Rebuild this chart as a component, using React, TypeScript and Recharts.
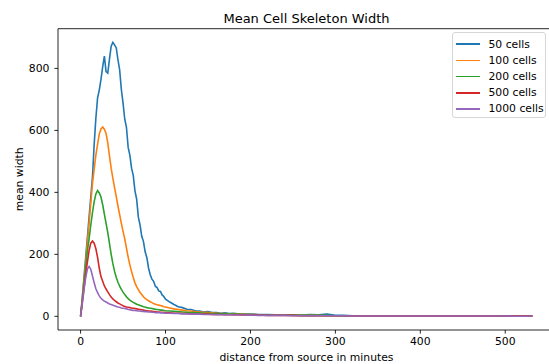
import { LineChart, Line, XAxis, YAxis, Legend, ReferenceLine, Label } from "recharts";

const minutes = [
  0, 2, 4, 6, 8, 10, 12, 14, 16, 18, 20, 22, 24, 26, 28, 30, 32, 34, 36, 38, 40, 42, 44, 46, 48, 50,
  52, 54, 56, 58, 60, 62, 64, 66, 68, 70, 72, 74, 76, 78, 80, 82, 84, 86, 88, 90, 92, 94, 96, 98, 100,
  105, 110, 115, 120, 125, 130, 135, 140, 145, 150, 155, 160, 165, 170, 175, 180, 185, 190, 195, 200,
  210, 220, 230, 240, 250, 260, 270, 280, 290, 300, 310, 320, 330, 340, 350, 360, 370, 380, 390, 400,
  410, 420, 430, 440, 450, 460, 470, 480, 490, 500, 510, 520, 530, 532,
];

const cells50 = [
  0, 60, 125, 190, 255, 320, 385, 450, 555, 640, 705, 730, 765, 805, 840, 790, 785, 830, 872, 884,
  876, 866, 828, 795, 732, 688, 636, 610, 545, 520, 478, 455, 405, 378, 320, 295, 258, 242, 208, 190,
  156, 134, 120, 113, 97, 93, 82, 80, 69, 64, 55,
  46, 38, 31, 28, 23, 22, 18, 17, 14, 15, 12, 12, 10, 11, 9, 10, 8, 8, 7, 7,
  6, 6, 5, 5, 4, 4, 6, 5, 7, 3, 3, 2, 2, 2, 2, 2, 2, 1, 1, 1, 1, 1, 1, 1, 1, 1, 1, 1, 1, 1, 1, 1, 1,
  1,
];

const cells100 = [
  0, 55, 115, 175, 240, 300, 365, 430, 475, 520, 555, 588, 605, 611, 604, 590, 560, 518, 478, 445,
  415, 386, 356, 328, 300, 274, 250, 220, 191, 166, 145, 125, 108, 96, 86, 77, 70, 63, 58, 54,
  50, 47, 44, 41, 39, 37, 36, 35, 33, 31, 30,
  27, 24, 22, 20, 18, 17, 15, 14, 13, 12, 11, 10, 9, 9, 8, 8, 7, 7, 6, 6,
  5, 5, 4, 4, 3, 3, 3, 3, 2, 2, 2, 2, 2, 2, 1, 1, 1, 1, 1, 1, 1, 1, 1, 1, 1, 1, 1, 1, 1, 1, 1, 1, 1,
  1,
];

const cells200 = [
  0, 50, 105, 160, 210, 250, 295, 335, 370, 395, 406, 398, 385, 360, 330, 300, 270, 235, 200, 170,
  145, 125, 110, 97, 87, 78, 70, 63, 57, 52, 48, 45, 42, 39, 37, 35, 33, 31, 30, 28,
  27, 26, 25, 24, 23, 22, 21, 20, 20, 19, 18,
  17, 16, 15, 14, 13, 12, 12, 11, 10, 10, 9, 9, 8, 8, 7, 7, 7, 6, 6, 6,
  5, 5, 4, 4, 4, 3, 3, 3, 3, 2, 2, 2, 2, 2, 2, 1, 1, 1, 1, 1, 1, 1, 1, 1, 1, 1, 1, 1, 1, 1, 1, 1, 1,
  1,
];

const cells500 = [
  0, 45, 90, 135, 175, 212, 236, 243, 236, 218, 190, 155, 128, 113, 98, 88, 79, 70, 62, 56,
  51, 47, 43, 40, 37, 34, 32, 30, 29, 28, 27, 26, 25, 24, 23, 22, 21, 20, 19, 18,
  17, 17, 16, 15, 15, 14, 14, 13, 13, 12, 12,
  11, 10, 10, 9, 9, 8, 8, 7, 7, 7, 6, 6, 6, 5, 5, 5, 5, 4, 4, 4,
  4, 3, 3, 3, 3, 2, 2, 2, 2, 2, 2, 2, 1, 1, 1, 1, 1, 1, 1, 1, 1, 1, 1, 1, 1, 1, 1, 1, 1, 1, 1, 1, 1,
  1,
];

const cells1000 = [
  0, 42, 85, 125, 152, 161, 152, 130, 108, 89, 76, 66, 58, 53, 49, 46, 43, 40, 38, 36,
  34, 32, 30, 29, 27, 26, 25, 24, 22, 21, 20, 19, 19, 18, 17, 17, 16, 16, 15, 15,
  14, 14, 13, 13, 12, 12, 12, 11, 11, 11, 10,
  10, 9, 9, 8, 8, 7, 7, 7, 6, 6, 6, 5, 5, 5, 5, 4, 4, 4, 4, 4,
  3, 3, 3, 3, 2, 2, 2, 2, 2, 2, 2, 1, 1, 1, 1, 1, 1, 1, 1, 1, 1, 1, 1, 1, 1, 1, 1, 1, 1, 1, 0, 0, 0,
  0,
];

const xTicks = [0, 100, 200, 300, 400, 500];
const yTicks = [0, 200, 400, 600, 800];

const series = [
  { key: "c50", name: "50 cells", color: "#1f77b4" },
  { key: "c100", name: "100 cells", color: "#ff7f0e" },
  { key: "c200", name: "200 cells", color: "#2ca02c" },
  { key: "c500", name: "500 cells", color: "#d62728" },
  { key: "c1000", name: "1000 cells", color: "#9467bd" },
];

const data = minutes.map((m, i) => ({
  minute: m,
  c50: cells50[i],
  c100: cells100[i],
  c200: cells200[i],
  c500: cells500[i],
  c1000: cells1000[i],
}));

const FONT = "'DejaVu Sans', sans-serif";
const FS = 10.8;
const tickStyle = { fontSize: FS, fill: "#000", fontFamily: FONT };

const LegendBox = () => (
  <div
    style={{
      position: "relative",
      width: 94,
      height: 86,
      boxSizing: "border-box",
      border: "1px solid #d6d6d6",
      borderRadius: 3,
      background: "rgba(255,255,255,0.8)",
      fontFamily: FONT,
      fontSize: FS,
      color: "#000",
    }}
  >
    {series.map((s, i) => (
      <div key={s.key} style={{ position: "absolute", left: 0, top: 5 + i * 16.2, height: 13, width: 94 }}>
        <div
          style={{
            position: "absolute",
            left: 3,
            top: 5.8,
            width: 24,
            height: 1.6,
            background: s.color,
          }}
        />
        <span style={{ position: "absolute", left: 35.5, top: 0, lineHeight: "13px", whiteSpace: "nowrap" }}>
          {s.name}
        </span>
      </div>
    ))}
  </div>
);

export default function App() {
  return (
    <div
      style={{
        position: "absolute",
        left: 0,
        top: 0,
        width: 549,
        height: 364,
        overflow: "hidden",
        background: "#fff",
      }}
    >
      <div
        style={{
          position: "absolute",
          left: 156.5,
          top: 11.5,
          width: 300,
          textAlign: "center",
          fontFamily: FONT,
          fontSize: 13,
          lineHeight: "13px",
          color: "#000",
          whiteSpace: "nowrap",
        }}
      >
        Mean Cell Skeleton Width
      </div>
      <LineChart
        width={600}
        height={364}
        data={data}
        margin={{ top: 28.7, right: 45, left: 0, bottom: 0 }}
      >
        <XAxis
          dataKey="minute"
          type="number"
          domain={[-26.6, 558.6]}
          ticks={xTicks}
          allowDataOverflow
          height={34}
          tickSize={3.6}
          tickMargin={3.4}
          tick={tickStyle}
          axisLine={{ stroke: "#000", strokeWidth: 0.85 }}
          tickLine={{ stroke: "#000", strokeWidth: 0.85 }}
        >
          <Label
            content={({ viewBox }: any) => (
              <text
                x={viewBox.x + viewBox.width / 2}
                y={360.5}
                textAnchor="middle"
                fontSize={FS}
                fontFamily={FONT}
                fill="#000"
              >
                distance from source in minutes
              </text>
            )}
          />
        </XAxis>
        <YAxis
          type="number"
          domain={[-44.2, 928.2]}
          ticks={yTicks}
          allowDataOverflow
          width={58}
          tickSize={3.6}
          tickMargin={5}
          tick={tickStyle}
          axisLine={{ stroke: "#000", strokeWidth: 0.85 }}
          tickLine={{ stroke: "#000", strokeWidth: 0.85 }}
        >
          <Label
            content={({ viewBox }: any) => {
              const cy = viewBox.y + viewBox.height / 2;
              return (
                <text
                  x={23.5}
                  y={cy}
                  transform={`rotate(-90, 23.5, ${cy})`}
                  textAnchor="middle"
                  fontSize={FS}
                  fontFamily={FONT}
                  fill="#000"
                >
                  mean width
                </text>
              );
            }}
          />
        </YAxis>
        <ReferenceLine y={928.2} stroke="#000" strokeWidth={0.85} />
        <ReferenceLine x={558.6} stroke="#000" strokeWidth={0.85} />
        {series.map((s) => (
          <Line
            key={s.key}
            type="linear"
            dataKey={s.key}
            name={s.name}
            stroke={s.color}
            strokeWidth={1.6}
            dot={false}
            activeDot={false}
            isAnimationActive={false}
          />
        ))}
        <Legend
          layout="horizontal"
          align="center"
          verticalAlign="middle"
          wrapperStyle={{ left: 452, top: 31.7, width: 94, height: 86 }}
          content={() => <LegendBox />}
        />
      </LineChart>
    </div>
  );
}
